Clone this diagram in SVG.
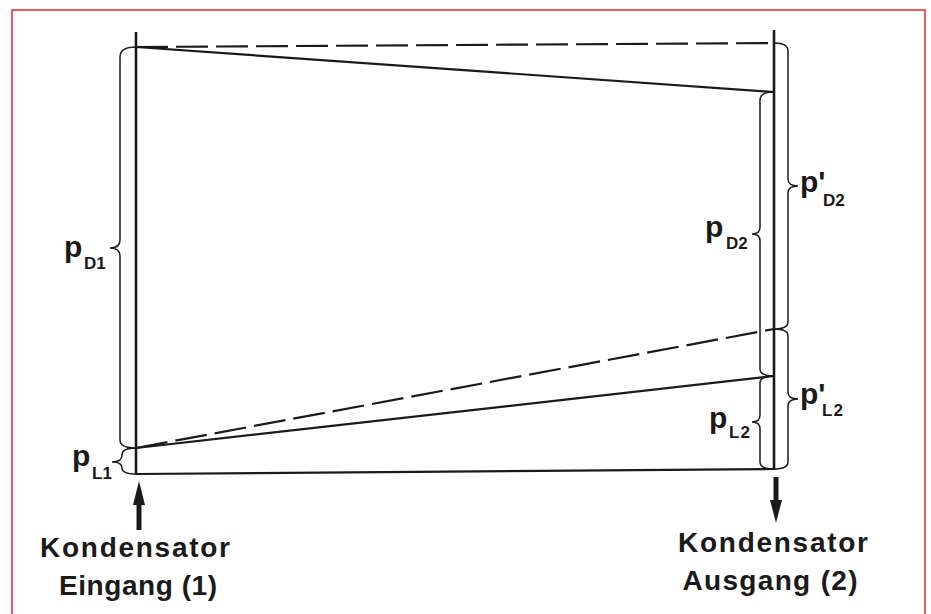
<svg xmlns="http://www.w3.org/2000/svg" width="931" height="614" viewBox="0 0 931 614">
<style>
.ax{stroke:#1a1a1a;stroke-width:2.6;fill:none;stroke-linecap:butt}
.ln{stroke:#1a1a1a;stroke-width:2.2;fill:none}
.ds{stroke:#1a1a1a;stroke-width:2.2;fill:none;stroke-dasharray:32 8}
.br{stroke:#1a1a1a;stroke-width:1.5;fill:none}
.p{font-family:"Liberation Sans",Arial,sans-serif;font-weight:bold;font-size:30px;fill:#1a1a1a}
.s{font-family:"Liberation Sans",Arial,sans-serif;font-weight:bold;font-size:17px;fill:#1a1a1a}
.t{font-family:"Liberation Sans",Arial,sans-serif;font-weight:bold;font-size:28px;fill:#1a1a1a;text-anchor:middle}
.ar{fill:#1a1a1a}
</style>
<rect x="12" y="10" width="913" height="620" fill="#ffffff" stroke="#e5262f" stroke-width="1.5"/>
<g id="axes">
<line class="ax" x1="136" y1="32" x2="136" y2="474"/>
<line class="ax" x1="774" y1="30" x2="774" y2="470"/>
</g>
<g id="connectors">
<line class="ds" x1="136" y1="47" x2="774" y2="43"/>
<line class="ln" x1="136" y1="47" x2="774" y2="92"/>
<line class="ds" x1="136" y1="448" x2="774" y2="329"/>
<line class="ln" x1="136" y1="448" x2="774" y2="376"/>
<line class="ln" x1="136" y1="474" x2="774" y2="469"/>
</g>
<g id="braces">
<path class="br" d="M136,47 Q120,47 120,57 L120,240 Q120,248 110,248 Q120,248 120,256 L120,440 Q120,448 136,448"/>
<path class="br" d="M136,448 Q122,448 122,455 Q122,462 112,462 Q122,462 122,468 Q122,474 136,474"/>
<path class="br" d="M774,92 Q760,92 760,100 L760,227 Q760,234 752,234 Q760,234 760,241 L760,369 Q760,376 774,376"/>
<path class="br" d="M774,376 Q760,376 760,383 L760,415 Q760,422 752,422 Q760,422 760,429 L760,462 Q760,469 774,469"/>
<path class="br" d="M774,43 Q788,43 788,51 L788,179 Q788,186 798,186 Q788,186 788,193 L788,322 Q788,329 774,329"/>
<path class="br" d="M774,329 Q788,329 788,336 L788,392 Q788,399 798,399 Q788,399 788,406 L788,462 Q788,469 774,469"/>
</g>
<g id="label-pD1"><text class="p" x="64" y="257">p</text><text class="s" x="84" y="269">D1</text></g>
<g id="label-pL1"><text class="p" x="72" y="466">p</text><text class="s" x="92" y="479">L1</text></g>
<g id="label-pD2"><text class="p" x="705" y="237">p</text><text class="s" x="726" y="249">D2</text></g>
<g id="label-pL2"><text class="p" x="709" y="428">p</text><text class="s" x="729" y="438" letter-spacing="1">L2</text></g>
<g id="label-p'D2"><text class="p" x="800" y="192">p'</text><text class="s" x="823" y="206">D2</text></g>
<g id="label-p'L2"><text class="p" x="800" y="404">p'</text><text class="s" x="822" y="416" letter-spacing="1">L2</text></g>
<g id="inlet">
<rect class="ar" x="136.5" y="500" width="5" height="30"/>
<polygon class="ar" points="139,481 133,505 145,505"/>
<text class="t" x="135" y="557" textLength="190" lengthAdjust="spacing">Kondensator</text>
<text class="t" x="138" y="595" textLength="158" lengthAdjust="spacing">Eingang (1)</text>
</g>
<g id="outlet">
<rect class="ar" x="773.5" y="477" width="5" height="25"/>
<polygon class="ar" points="776,523 770,500 782,500"/>
<text class="t" x="773" y="552" textLength="190" lengthAdjust="spacing">Kondensator</text>
<text class="t" x="770" y="590" textLength="175" lengthAdjust="spacing">Ausgang (2)</text>
</g>
</svg>
